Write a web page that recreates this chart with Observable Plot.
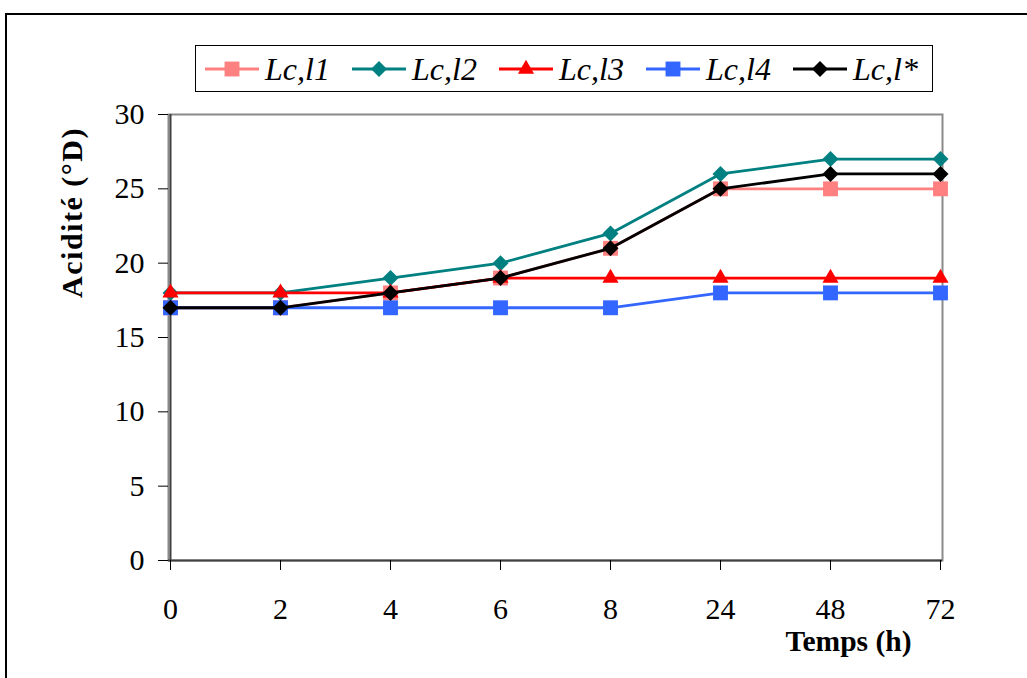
<!DOCTYPE html>
<html>
<head>
<meta charset="utf-8">
<script src="https://cdn.jsdelivr.net/npm/d3@7"></script>
<script src="https://cdn.jsdelivr.net/npm/@observablehq/plot@0.6"></script>
<style>
  html, body { margin: 0; padding: 0; background: #fff; overflow: hidden; }
  #wrap { position: relative; width: 1027px; height: 678px; overflow: hidden; font-family: "Liberation Serif", "Times New Roman", serif; }
  #chart { position: absolute; left: 0; top: 0; }
  #outer { position: absolute; left: 5px; top: 13px; width: 1100px; height: 800px; border: 2px solid #000; }
  #legend { position: absolute; left: 195px; top: 45px; width: 738px; height: 47px; box-sizing: border-box;
            border: 1px solid #000; background: #fff; display: flex; align-items: center; padding-left: 9px; }
  .item { width: 147px; display: flex; align-items: center; flex: none; }
  .item span { font-style: italic; font-size: 32px; margin-left: 6px; line-height: 1; }
  .ytitle { letter-spacing: 1.5px; }
</style>
</head>
<body>
<div id="wrap">
  <div id="outer"></div>
  <div id="chart"></div>
  <div id="legend"></div>
</div>
<script>
// ---- data ----
const hours = ["0", "2", "4", "6", "8", "24", "48", "72"];
const lc_l1 = [17, 17, 18, 19, 21, 25, 25, 25];
const lc_l2 = [18, 18, 19, 20, 22, 26, 27, 27];
const lc_l3 = [18, 18, 18, 19, 19, 19, 19, 19];
const lc_l4 = [17, 17, 17, 17, 17, 18, 18, 18];
const lc_lstar = [17, 17, 18, 19, 21, 25, 26, 26];
const seriesNames = ["Lc,l1", "Lc,l2", "Lc,l3", "Lc,l4", "Lc,l*"];
const seriesColors = ["#FF8080", "#008080", "#FF0000", "#3366FF", "#000000"];
const seriesSymbols = ["square", "diamond2", "triangle", "square", "diamond2"];
const yTicks = [0, 5, 10, 15, 20, 25, 30];
const yTitle = "Acidité (°D)";
const xTitle = "Temps (h)";

const seriesValues = [lc_l1, lc_l2, lc_l3, lc_l4, lc_lstar];
const symbolR = {square: 8.4, diamond2: 7.2, triangle: 6};
const d3Sym = {square: d3.symbolSquare, diamond2: d3.symbolDiamond2, triangle: d3.symbolTriangle};

const seriesData = seriesNames.map((name, i) =>
  hours.map((h, j) => ({series: name, hour: h, value: seriesValues[i][j]}))
);

const FONT = "Liberation Serif";

const marks = [
  Plot.frame({stroke: "#8a8a8a", strokeWidth: 2}),
  Plot.ruleX([hours[0]], {stroke: "#404040", strokeWidth: 2}),
  Plot.ruleY([0], {stroke: "#404040", strokeWidth: 2}),
  Plot.axisY(yTicks, {tickSize: 10, tickPadding: 14, fontSize: 30, fontFamily: FONT, label: null, stroke: "#000", fill: "#000"}),
  Plot.axisX(hours, {tickSize: 10, tickPadding: 27, fontSize: 30, fontFamily: FONT, label: null, stroke: "#000", fill: "#000"})
];

seriesData.forEach((data, i) => {
  marks.push(Plot.line(data, {x: "hour", y: "value", stroke: seriesColors[i], strokeWidth: 2.8}));
  marks.push(Plot.dot(data, {x: "hour", y: "value", symbol: seriesSymbols[i], fill: seriesColors[i], stroke: "none", r: symbolR[seriesSymbols[i]]}));
});

marks.push(Plot.text([yTitle], {frameAnchor: "top-left", rotate: -90, dx: -96, dy: 98, fontSize: 30, fontWeight: "bold", fontFamily: FONT, textAnchor: "middle", lineAnchor: "middle", fill: "#000", className: "ytitle"}));
marks.push(Plot.text([xTitle], {frameAnchor: "bottom-right", dx: -94, dy: 81, fontSize: 29.5, fontWeight: "bold", fontFamily: FONT, textAnchor: "middle", lineAnchor: "middle", fill: "#000"}));

const chart = Plot.plot({
  width: 1027,
  height: 678,
  marginLeft: 168,
  marginRight: 85,
  marginTop: 114,
  marginBottom: 118,
  style: {fontFamily: FONT, color: "#000", background: "transparent", overflow: "visible"},
  x: {type: "point", domain: hours, padding: 0, axis: null},
  y: {domain: [0, 30], axis: null},
  marks
});
document.getElementById("chart").appendChild(chart);

// ---- legend ----
const legend = d3.select("#legend");
seriesNames.forEach((name, i) => {
  const item = legend.append("div").attr("class", "item");
  const svg = item.append("svg").attr("width", 54).attr("height", 24);
  svg.append("line").attr("x1", 0).attr("x2", 54).attr("y1", 12).attr("y2", 12)
     .attr("stroke", seriesColors[i]).attr("stroke-width", 3);
  const s = seriesSymbols[i];
  const R = symbolR[s];
  svg.append("path").attr("transform", "translate(27,12)")
     .attr("d", d3.symbol(d3Sym[s], Math.PI * R * R)())
     .attr("fill", seriesColors[i]);
  item.append("span").text(name);
});
</script>
</body>
</html>
